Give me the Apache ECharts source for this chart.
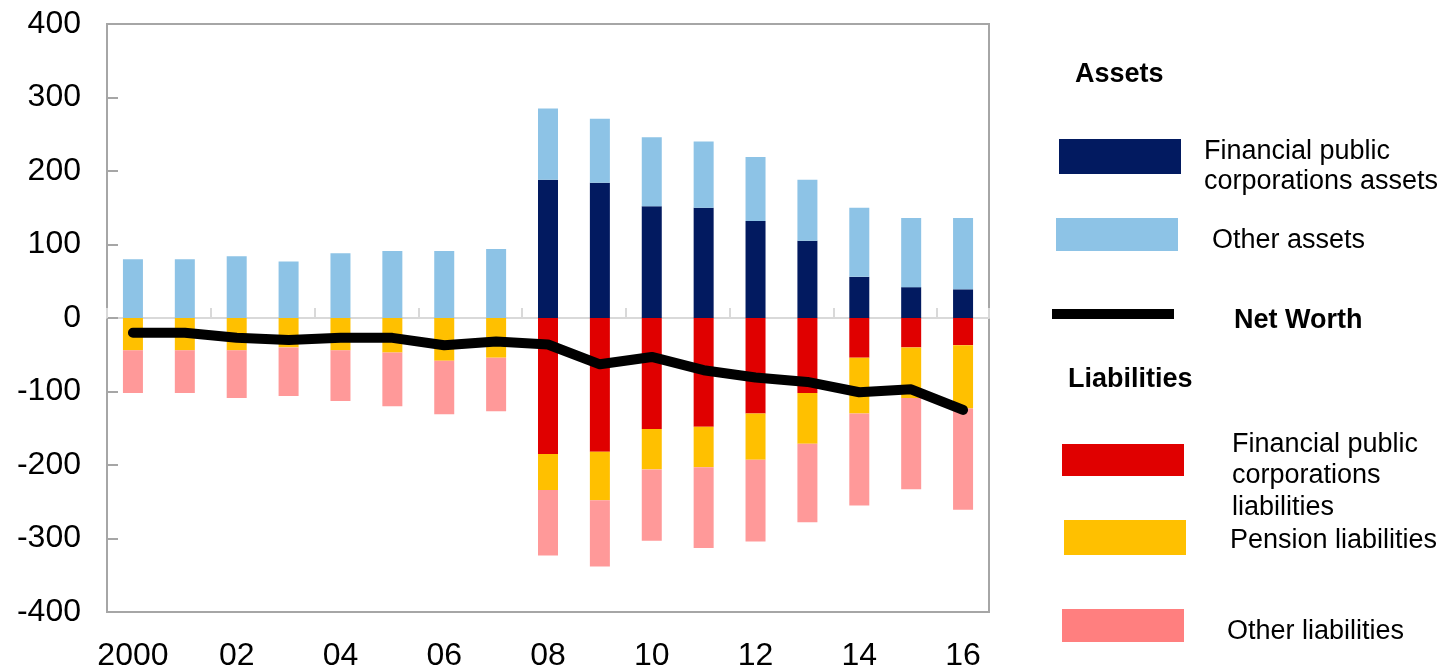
<!DOCTYPE html>
<html>
<head>
<meta charset="utf-8">
<script src="https://cdn.jsdelivr.net/npm/echarts@6/dist/echarts.min.js"></script>
<style>
html,body{margin:0;padding:0;background:#fff;}
#chart{width:1448px;height:669px;}
</style>
</head>
<body>
<div id="chart"></div>
<script>
// ---- data ----
var years = ['2000','01','02','03','04','05','06','07','08','09','10','11','12','13','14','15','16'];
var finAssets   = [0,0,0,0,0,0,0,0,188,184,152,150,132,105,56,42,39];
var otherAssets = [80,80,84,77,88,91,91,94,97,87,94,90,87,83,94,94,97];
var finLiab     = [0,0,0,0,0,0,0,0,-185,-182,-151,-148,-130,-102,-54,-40,-37];
var pensionLiab = [-44,-44,-44,-40,-44,-47,-58,-54,-49,-66,-55,-55,-63,-69,-76,-69,-86];
var otherLiab   = [-58,-58,-65,-66,-69,-73,-73,-73,-89,-90,-97,-110,-111,-107,-125,-124,-138];
var netWorth    = [-20,-20,-27,-30,-27,-27,-37,-32,-36,-63,-53,-71,-81,-87,-101,-97,-125];
var yTicks = [-400,-300,-200,-100,0,100,200,300,400];

var FONT = '"Liberation Sans", Arial, sans-serif';
var C = {navy:'#021A60', lblue:'#8DC3E6', red:'#E00000', yellow:'#FFC000', pink:'#FF9999', pinkLeg:'#FF7F7F'};

var chart = echarts.init(document.getElementById('chart'), null, {renderer:'canvas'});

function bar(name, data, color){
  return {name:name, type:'bar', stack:'all', stackStrategy:'samesign', data:data,
    barWidth:20, itemStyle:{color:color}, xAxisIndex:0, yAxisIndex:0, silent:true};
}
function rect(x, y, w, h, c){
  return {type:'rect', shape:{x:x, y:y, width:w, height:h}, style:{fill:c}};
}
function label(x, y, s, bold){
  return {type:'text', x:x, y:y, style:{text:s, fill:'#000', font:(bold?'bold ':'')+'27px '+FONT, verticalAlign:'middle'}};
}

var graphics = [
  label(1075, 75, 'Assets', true),
  rect(1059,139,122,35,C.navy),
  label(1204, 152, 'Financial public'),
  label(1204, 182, 'corporations assets'),
  rect(1056,218,122,33,C.lblue),
  label(1212, 241, 'Other assets'),
  rect(1052,309,122,10,'#000'),
  label(1234, 321, 'Net Worth', true),
  label(1068, 380, 'Liabilities', true),
  rect(1062,444,122,32,C.red),
  label(1232, 445, 'Financial public'),
  label(1232, 476, 'corporations'),
  label(1232, 508, 'liabilities'),
  rect(1064,520,122,35,C.yellow),
  label(1230, 541, 'Pension liabilities'),
  rect(1062,609,122,33,C.pinkLeg),
  label(1227, 632, 'Other liabilities')
];

var option = {
  animation:false,
  backgroundColor:'#fff',
  textStyle:{fontFamily:FONT},
  grid:{left:107, right:459, top:24, bottom:57, show:true, borderColor:'#A6A6A6', borderWidth:2,
        backgroundColor:'transparent', containLabel:false, outerBoundsMode:'none'},
  xAxis:[
    {type:'category', data:years, boundaryGap:true,
     axisLine:{onZero:true, lineStyle:{color:'#D9D9D9', width:2}},
     axisTick:{show:true, inside:true, interval:1, length:10, lineStyle:{color:'#D9D9D9', width:2}},
     axisLabel:{show:false}, splitLine:{show:false}},
    {type:'category', data:years, boundaryGap:true, position:'bottom',
     axisLine:{show:false}, axisTick:{show:false},
     axisLabel:{show:true, interval:1, margin:28, color:'#000', fontSize:32, fontFamily:FONT},
     splitLine:{show:false}}
  ],
  yAxis:{type:'value', min:-400, max:400, interval:100,
    axisLine:{show:true, lineStyle:{color:'#A6A6A6', width:2}},
    axisTick:{show:true, inside:true, length:11, lineStyle:{color:'#A6A6A6', width:2}},
    axisLabel:{color:'#000', fontSize:32, fontFamily:FONT, margin:26,
      formatter:function(v){ return yTicks.indexOf(v) >= 0 ? String(v) : ''; }},
    splitLine:{show:false}},
  series:[
    bar('Financial public corporations assets', finAssets, C.navy),
    bar('Other assets', otherAssets, C.lblue),
    bar('Financial public corporations liabilities', finLiab, C.red),
    bar('Pension liabilities', pensionLiab, C.yellow),
    bar('Other liabilities', otherLiab, C.pink),
    {name:'Net Worth', type:'line', data:netWorth, xAxisIndex:0, yAxisIndex:0, symbol:'none', z:10,
     lineStyle:{color:'#000', width:10, cap:'round', join:'round'}, silent:true}
  ],
  graphic:graphics
};
chart.setOption(option);
</script>
</body>
</html>
